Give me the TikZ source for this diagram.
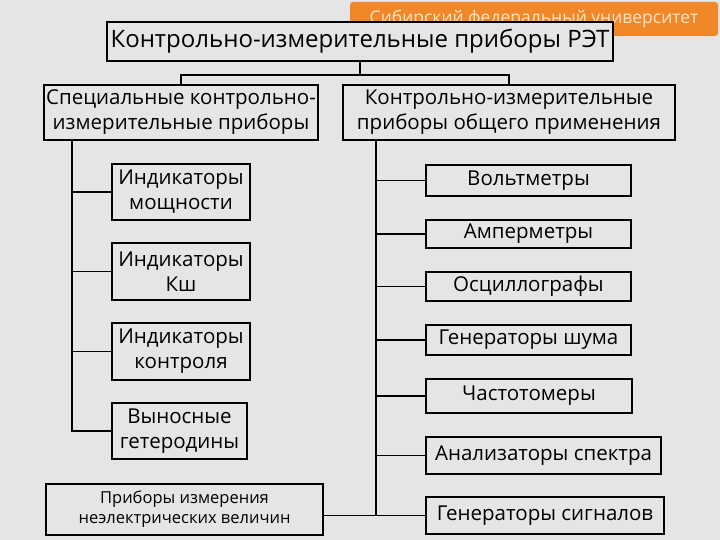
\documentclass[tikz,border=0pt]{standalone}
\usepackage{fontspec}
\setmainfont{Open Sans}
\begin{document}
\begin{tikzpicture}[x=1pt,y=-1pt,
  box/.style={draw=black,line width=1.8pt,rectangle,inner sep=0pt,align=center,font=\fontsize{20.5}{25}\selectfont},
  link/.style={line width=1.8pt}]
\useasboundingbox (0,0) rectangle (720,540);
\fill[gray!20] (0,0) rectangle (720,540);
% banner
\node[fill={rgb,255:red,240;green,135;blue,40},rounded corners=3pt,minimum width=368pt,minimum height=34pt,inner sep=0pt,text=white!80!orange,font=\fontsize{17.5}{18}\selectfont,anchor=center] (ban) at (534,19) {\raisebox{3pt}{Сибирский федеральный университет}};
\node[box,fill=gray!20,minimum width=506pt,minimum height=39pt,font=\fontsize{24}{26}\selectfont] (top) at (360,41.5) {Контрольно-измерительные приборы РЭТ};
\node[box,minimum width=274pt,minimum height=55pt] (L) at (181,112.5) {Специальные контрольно-\\измерительные приборы};
\node[box,minimum width=332pt,minimum height=55pt] (R) at (509,112.5) {Контрольно-измерительные\\приборы общего применения};
\coordinate (j) at (360,75);
\draw[link] (top.south) -- (j);
\draw[link] (L.north) |- (j) -| (R.north);
% left children
\node[box,minimum width=138pt,minimum height=56pt] (l1) at (181,192) {Индикаторы\\мощности};
\node[box,minimum width=138pt,minimum height=57pt] (l2) at (181,271.5) {Индикаторы\\Кш};
\node[box,minimum width=138pt,minimum height=57pt] (l3) at (181,351.5) {Индикаторы\\контроля};
\node[box,minimum width=135pt,minimum height=56pt] (l4) at (179.5,431) {Выносные\\гетеродины};
\coordinate (lv) at (72,140);
\draw[link] (lv) |- (l4.west);
\foreach \n in {l1,l2,l3} \draw[link] (\n.west -| lv) -- (\n.west);
% right children
\node[box,minimum width=205pt,minimum height=31pt] (r1) at (528.5,180.5) {Вольтметры};
\node[box,minimum width=205pt,minimum height=28pt] (r2) at (528.5,234) {Амперметры};
\node[box,minimum width=205pt,minimum height=29pt] (r3) at (528.5,286.5) {Осциллографы};
\node[box,minimum width=205pt,minimum height=30pt] (r4) at (528.5,340) {Генераторы шума};
\node[box,minimum width=206pt,minimum height=34pt] (r5) at (529,396) {Частотомеры};
\node[box,minimum width=235pt,minimum height=37pt] (r6) at (543.5,455.5) {Анализаторы спектра};
\node[box,minimum width=238pt,minimum height=37pt] (r7) at (545,515.5) {Генераторы сигналов};
\node[box,minimum width=277pt,minimum height=51pt,font=\fontsize{16.5}{20}\selectfont] (b) at (184.5,509.5) {Приборы измерения\\неэлектрических величин};
\coordinate (rv) at (376,140);
\draw[link] (rv) -- (rv |- r7.west);
\foreach \n in {r1,r2,r3,r4,r5,r6,r7} \draw[link] (\n.west -| rv) -- (\n.west);
\draw[link] (b.east |- r7.west) -- (rv |- r7.west);
\end{tikzpicture}
\end{document}
